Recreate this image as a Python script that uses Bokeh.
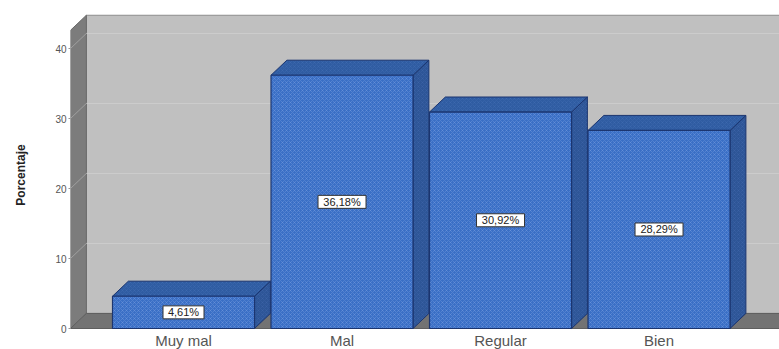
from bokeh.plotting import figure
from bokeh.models import Range1d, FixedTicker, ColumnDataSource, LabelSet
from bokeh.core.properties import value
from bokeh.embed import file_html
from bokeh.resources import INLINE

# Data
categories = ["Muy mal", "Mal", "Regular", "Bien"]
percentages = [4.61, 36.18, 30.92, 28.29]
y_ticks = [0, 10, 20, 30, 40]

# 3D box geometry (data units)
DX = 0.10      # depth offset along x
DY = 2.15      # depth offset along y
HW = 0.448     # half bar width
X_LEFT = -0.713
X_RIGHT = 3.76
WALL_TOP = 42.6
Y_BOTTOM = -3.0   # room under the floor for category names

p = figure(width=779, height=349, output_backend="svg", toolbar_location=None,
           x_range=Range1d(X_LEFT, X_RIGHT), y_range=Range1d(Y_BOTTOM, 328 / 7),
           min_border_left=70, min_border_right=0, min_border_top=0,
           min_border_bottom=0)
p.outline_line_color = None
p.xgrid.visible = False
p.ygrid.visible = False
p.xaxis.visible = False
p.background_fill_color = "white"

# Back wall
p.patch([X_LEFT + DX, X_RIGHT + 0.2, X_RIGHT + 0.2, X_LEFT + DX],
        [DY, DY, WALL_TOP + DY, WALL_TOP + DY],
        fill_color="#c0c0c0", line_color="#8c8c8c", line_width=1)
# Left wall
p.patch([X_LEFT, X_LEFT + DX, X_LEFT + DX, X_LEFT],
        [0, DY, WALL_TOP + DY, WALL_TOP],
        fill_color="#7c7c7c", line_color="#6a6a6a", line_width=1)
# Floor
p.patch([X_LEFT, X_RIGHT + 0.2, X_RIGHT + 0.2, X_LEFT + DX],
        [0, 0, DY, DY],
        fill_color="#737373", line_color="#5e5e5e", line_width=1)

# Gridlines on back wall and left wall
for t in y_ticks[1:]:
    p.line([X_LEFT + DX, X_RIGHT + 0.2], [t + DY, t + DY], line_color="#cdcdcd", line_width=1)
    p.line([X_LEFT, X_LEFT + DX], [t, t + DY], line_color="#a0a0a0", line_width=1)

# Bars
xs = list(range(len(categories)))
front_x, front_y, top_x, top_y, side_x, side_y = [], [], [], [], [], []
for x, v in zip(xs, percentages):
    front_x.append([x - HW, x + HW, x + HW, x - HW])
    front_y.append([0, 0, v, v])
    top_x.append([x - HW, x + HW, x + HW + DX, x - HW + DX])
    top_y.append([v, v, v + DY, v + DY])
    side_x.append([x + HW, x + HW + DX, x + HW + DX, x + HW])
    side_y.append([0, DY, v + DY, v])

p.patches(side_x, side_y, fill_color="#2d5597", line_color="#1b3570", line_width=1,
          hatch_pattern="x", hatch_color="#5b82c4", hatch_alpha=0.35, hatch_scale=4,
          hatch_weight=0.5)
p.patches(top_x, top_y, fill_color="#2f5ca2", line_color="#1b3570", line_width=1,
          hatch_pattern="x", hatch_color="#5f88cc", hatch_alpha=0.35, hatch_scale=4,
          hatch_weight=0.5)
p.patches(front_x, front_y, fill_color="#3a6fc6", line_color="#1b3570", line_width=1.2,
          hatch_pattern="x", hatch_color="#86aae6", hatch_alpha=0.55, hatch_scale=4,
          hatch_weight=0.6)

# Value labels in white boxes
value_texts = [f"{v:.2f}%".replace(".", ",") for v in percentages]
src = ColumnDataSource(dict(
    x=xs,
    y=[v / 2 for v in percentages],
    text=value_texts,
    w=[7 * len(t) + 6 for t in value_texts],
))
p.rect(x="x", y="y", width="w", height=13, width_units="screen", height_units="screen",
       source=src, fill_color="white", line_color="#333333", line_width=1)
labels = LabelSet(x="x", y="y", text="text", source=src,
                  text_align="center", text_baseline="middle",
                  text_font=value("Liberation Sans"), text_font_size=value("11px"),
                  text_color="#222222")
p.add_layout(labels)

# Category names under the floor
cat_src = ColumnDataSource(dict(x=xs, y=[-0.55] * len(xs), text=categories))
cat_labels = LabelSet(x="x", y="y", text="text", source=cat_src,
                      text_align="center", text_baseline="top",
                      text_font=value("Liberation Sans"), text_font_size=value("15px"),
                      text_color="#555555")
p.add_layout(cat_labels)

# Y axis
p.yaxis.ticker = FixedTicker(ticks=y_ticks)
p.yaxis.axis_line_color = None
p.yaxis.major_tick_line_color = "#999999"
p.yaxis.major_tick_out = 2
p.yaxis.major_tick_in = 0
p.yaxis.minor_tick_line_color = None
p.yaxis.major_label_standoff = 2
p.yaxis.major_label_text_font = "Liberation Sans"
p.yaxis.major_label_text_font_size = "10px"
p.yaxis.major_label_text_color = "#555555"
p.yaxis.axis_label = "Porcentaje"
p.yaxis.axis_label_text_font = "Liberation Sans"
p.yaxis.axis_label_text_font_size = "12px"
p.yaxis.axis_label_text_font_style = "bold"
p.yaxis.axis_label_text_color = "#222222"
p.yaxis.axis_label_standoff = 24

open("out.html", "w").write(file_html(p, INLINE))
